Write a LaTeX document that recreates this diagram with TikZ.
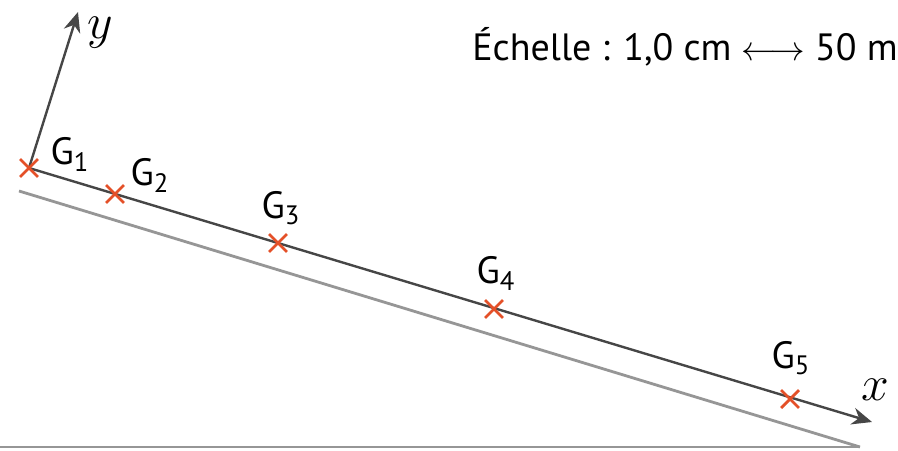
\documentclass[tikz,border=0pt]{standalone}
\usepackage{fontspec}
\setmainfont{PT Sans}
\usetikzlibrary{arrows.meta,shapes.misc}

\definecolor{axisgray}{RGB}{70,70,70}
\definecolor{slopegray}{RGB}{150,150,150}
\definecolor{crossred}{RGB}{228,80,40}

\tikzset{
  axis/.style={draw=axisgray, line width=1.2pt, -{Stealth[length=10pt,width=8.5pt]}},
  ground/.style={draw=slopegray, line width=1.4pt},
  gmark/.style={cross out, draw=crossred, line width=1.4pt, minimum size=7.5pt, inner sep=0pt},
  lbl/.style={font=\fontsize{19}{21}\selectfont, inner sep=0pt},
  axlbl/.style={font=\fontsize{24}{26}\selectfont, inner sep=0pt}
}

\begin{document}
\begin{tikzpicture} [x=0.5pt,y=-0.5pt]

\useasboundingbox (0,0) rectangle (898,450);

%\draw [step=50, dotted] (0,0) grid (898,450);

% ground and slope
\draw [ground] (0,447) -- (860,447);
\draw [ground] (19,191) -- (860,447);

% axes
\coordinate (O) at (29,168);
\coordinate (xtip) at (872,422);
\coordinate (ytip) at (78,12);
\draw [axis] (O) -- (xtip);
\draw [axis] (O) -- (ytip);
\node [axlbl] (xlab) at (875,390) {$x$};
\node [axlbl] (ylab) at (100,33) {$y$};

% positions
\node [gmark] (g1) at (O) {};
\node [gmark] (g2) at (115,194) {};
\node [gmark] (g3) at (278,243) {};
\node [gmark] (g4) at (494,309) {};
\node [gmark] (g5) at (790,399) {};

\node [lbl] (g1lab) at (70,154) {G\textsubscript{1}};
\node [lbl] (g2lab) at (150,175) {G\textsubscript{2}};
\node [lbl] (g3lab) at (281,208) {G\textsubscript{3}};
\node [lbl] (g4lab) at (496,273) {G\textsubscript{4}};
\node [lbl] (g5lab) at (791,358) {G\textsubscript{5}};

% scale
\node [lbl] (scale) at (685,47) {Échelle : 1,0 cm $\longleftrightarrow$ 50 m};

\end{tikzpicture}
\end{document}
